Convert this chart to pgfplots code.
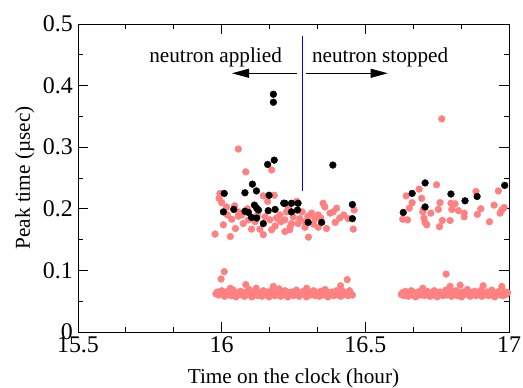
\documentclass[border=0pt]{standalone}
\usepackage{fontspec}
\setmainfont{Liberation Serif}
\usepackage{pgfplots}
\pgfplotsset{compat=1.18}
\usetikzlibrary{arrows.meta}
\definecolor{pk}{RGB}{255,128,128}
\begin{document}
\begin{tikzpicture}
\begin{axis}[
  at={(0,0)}, anchor=south west,
  width=431bp, height=308bp, scale only axis,
  xmin=15.5, xmax=17, ymin=0, ymax=0.5,
  xtick={15.5,16,16.5,17}, ytick={0,0.1,0.2,0.3,0.4,0.5},
  xticklabels={15.5,16,16.5,17}, yticklabels={0,0.1,0.2,0.3,0.4,0.5},
  minor x tick num=2, minor y tick num=1,
  tick align=inside,
  major tick length=10bp, minor tick length=5bp,
  tick style={black, line width=0.8pt},
  axis line style={black, line width=0.9pt},
  tick label style={font=\rmfamily\fontsize{24}{28}\selectfont},
  yticklabel style={inner sep=0pt, anchor=east, xshift=-5bp},
  xticklabel style={inner sep=0pt, anchor=north, yshift=-4.7bp},
  label style={font=\fontsize{21.3}{25}\selectfont},
  xlabel={Time on the clock (hour)},
  ylabel={Peak time (µsec)},
  xlabel style={at={(axis description cs:0.5,-0.1656)}, anchor=base, inner sep=0pt},
  ylabel style={at={(axis description cs:-0.1114,0.5)}, anchor=base, rotate=0, inner sep=0pt},
  clip=false,
]
% band and scattered points (pink)
\addplot[only marks, mark=*, mark size=3.4pt, color=pk, draw=pk, fill=pk] table {
x y
15.980 0.062
15.985 0.065
15.990 0.060
15.995 0.063
16.000 0.067
16.005 0.061
16.010 0.058
16.015 0.064
16.020 0.066
16.025 0.060
16.030 0.063
16.035 0.059
16.040 0.068
16.045 0.062
16.050 0.057
16.055 0.064
16.060 0.061
16.065 0.066
16.070 0.060
16.075 0.063
16.080 0.058
16.085 0.065
16.090 0.062
16.095 0.069
16.100 0.060
16.105 0.057
16.110 0.063
16.115 0.066
16.120 0.061
16.125 0.059
16.130 0.064
16.135 0.062
16.140 0.058
16.145 0.067
16.150 0.063
16.155 0.060
16.160 0.065
16.165 0.057
16.170 0.062
16.175 0.068
16.180 0.061
16.185 0.059
16.190 0.064
16.195 0.062
16.200 0.066
16.205 0.058
16.210 0.063
16.215 0.060
16.220 0.067
16.225 0.061
16.230 0.057
16.235 0.064
16.240 0.062
16.245 0.065
16.250 0.059
16.255 0.063
16.260 0.068
16.265 0.060
16.270 0.058
16.275 0.064
16.280 0.062
16.285 0.066
16.290 0.061
16.295 0.057
16.300 0.063
16.305 0.065
16.310 0.060
16.315 0.062
16.320 0.067
16.325 0.059
16.330 0.064
16.335 0.061
16.340 0.058
16.345 0.066
16.350 0.063
16.355 0.060
16.360 0.069
16.365 0.062
16.370 0.057
16.375 0.064
16.380 0.061
16.385 0.065
16.390 0.059
16.395 0.063
16.400 0.067
16.405 0.060
16.410 0.062
16.415 0.058
16.420 0.066
16.425 0.063
16.430 0.061
16.435 0.064
16.440 0.059
16.445 0.067
16.450 0.062
16.455 0.060
16.009 0.098
15.998 0.086
16.084 0.077
16.180 0.074
16.437 0.085
16.414 0.075
16.296 0.071
16.030 0.071
16.120 0.071
16.200 0.070
16.625 0.061
16.630 0.064
16.635 0.059
16.640 0.066
16.645 0.062
16.650 0.058
16.655 0.063
16.660 0.067
16.665 0.060
16.670 0.064
16.675 0.057
16.680 0.062
16.685 0.065
16.690 0.060
16.695 0.063
16.700 0.068
16.705 0.059
16.710 0.061
16.715 0.066
16.720 0.062
16.725 0.058
16.730 0.064
16.735 0.060
16.740 0.067
16.745 0.063
16.750 0.057
16.755 0.062
16.760 0.065
16.765 0.061
16.770 0.059
16.775 0.064
16.780 0.068
16.785 0.060
16.790 0.062
16.795 0.066
16.800 0.058
16.805 0.063
16.810 0.061
16.815 0.067
16.820 0.059
16.825 0.064
16.830 0.062
16.835 0.057
16.840 0.065
16.845 0.061
16.850 0.063
16.855 0.069
16.860 0.060
16.865 0.058
16.870 0.064
16.875 0.062
16.880 0.066
16.885 0.059
16.890 0.063
16.895 0.061
16.900 0.067
16.905 0.058
16.910 0.064
16.915 0.060
16.920 0.062
16.925 0.065
16.930 0.059
16.935 0.063
16.940 0.068
16.945 0.061
16.950 0.057
16.955 0.064
16.960 0.062
16.965 0.066
16.970 0.060
16.975 0.063
16.980 0.059
16.985 0.065
16.990 0.061
16.995 0.064
16.781 0.094
16.830 0.076
16.910 0.075
16.975 0.074
16.795 0.074
16.700 0.071
15.977 0.159
16.030 0.155
15.994 0.225
15.991 0.217
16.017 0.203
16.058 0.188
16.035 0.183
16.006 0.174
16.058 0.297
16.084 0.260
16.174 0.263
16.075 0.176
16.104 0.167
16.133 0.167
16.145 0.158
16.174 0.166
16.186 0.172
16.206 0.179
16.220 0.182
16.220 0.163
16.238 0.170
16.226 0.195
16.203 0.190
16.183 0.222
16.145 0.221
16.160 0.212
16.058 0.195
16.070 0.190
16.093 0.182
16.116 0.179
16.151 0.187
16.168 0.182
16.191 0.185
16.261 0.212
16.232 0.201
16.249 0.187
16.272 0.184
16.266 0.176
16.237 0.166
16.290 0.179
16.313 0.193
16.324 0.184
16.336 0.190
16.353 0.209
16.359 0.203
16.377 0.193
16.388 0.195
16.400 0.201
16.411 0.185
16.440 0.184
16.461 0.198
16.458 0.167
16.336 0.170
16.365 0.168
16.302 0.154
16.290 0.170
16.243 0.176
16.000 0.210
16.020 0.190
16.045 0.205
16.048 0.168
16.090 0.200
16.125 0.190
16.280 0.195
16.300 0.188
16.320 0.175
16.345 0.185
16.395 0.178
16.425 0.190
16.642 0.221
16.663 0.210
16.653 0.201
16.630 0.183
16.647 0.182
16.687 0.232
16.696 0.217
16.702 0.199
16.700 0.195
16.704 0.185
16.708 0.178
16.714 0.174
16.728 0.193
16.748 0.239
16.760 0.210
16.754 0.199
16.768 0.181
16.758 0.171
16.795 0.181
16.798 0.209
16.801 0.199
16.812 0.208
16.824 0.197
16.844 0.193
16.844 0.187
16.885 0.228
16.902 0.200
16.890 0.191
16.932 0.179
16.948 0.206
16.963 0.229
16.969 0.193
16.975 0.198
16.983 0.202
16.766 0.346
};
% black points
\addplot[only marks, mark=*, mark size=3.4pt, color=black, draw=black, fill=black] table {
x y
16.180 0.386
16.180 0.373
16.160 0.272
16.183 0.279
16.387 0.271
16.107 0.240
16.121 0.229
16.081 0.226
16.009 0.225
16.165 0.222
16.216 0.209
16.042 0.199
16.006 0.195
16.081 0.196
16.093 0.194
16.114 0.206
16.122 0.201
16.128 0.198
16.162 0.197
16.186 0.199
16.104 0.186
16.122 0.185
16.145 0.176
16.220 0.209
16.243 0.209
16.266 0.209
16.243 0.195
16.264 0.198
16.301 0.178
16.348 0.178
16.455 0.207
16.455 0.184
16.632 0.194
16.663 0.225
16.708 0.242
16.708 0.203
16.798 0.224
16.847 0.213
16.889 0.220
16.985 0.238
};
% boundary line
\addplot[blue, line width=1.2pt] coordinates {(16.280,0.2294) (16.280,0.4805)};
\draw[-{Triangle[length=17bp,width=9bp]}, line width=0.9pt] (axis cs:16.262,0.420) -- (axis cs:16.036,0.420);
\draw[-{Triangle[length=17bp,width=9bp]}, line width=0.9pt] (axis cs:16.294,0.420) -- (axis cs:16.578,0.420);
\node[anchor=base, inner sep=0pt, font=\fontsize{21.3}{25}\selectfont] at (axis cs:15.979,0.438) {neutron applied};
\node[anchor=base west, inner sep=0pt, font=\fontsize{21.3}{25}\selectfont] at (axis cs:16.314,0.438) {neutron stopped};
\end{axis}
\pgfresetboundingbox
\path (-78bp,-56bp) rectangle (445bp,332bp);
\end{tikzpicture}
\end{document}
